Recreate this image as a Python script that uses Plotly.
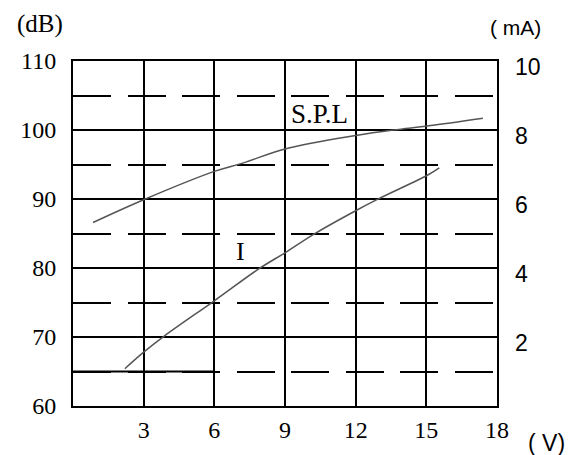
import plotly.graph_objects as go

# Data
spl_v = [0.85, 3.0, 6.0, 7.2, 9.0, 12.0, 13.6, 15.1, 17.4]
spl_db = [86.6, 89.9, 94.0, 95.2, 97.25, 99.2, 100.0, 100.6, 101.7]

i_v = [2.2, 3.0, 3.9, 6.0, 7.9, 9.0, 10.3, 12.0, 12.9, 15.1, 15.55]
i_ma = [1.08, 1.56, 2.04, 3.05, 3.98, 4.44, 5.01, 5.66, 5.98, 6.71, 6.9]

x_ticks = [3, 6, 9, 12, 15, 18]
db_ticks = [60, 70, 80, 90, 100, 110]
ma_ticks = [2, 4, 6, 8, 10]

serif = "Liberation Serif, Times New Roman, serif"
sans = "Liberation Sans, Arial, sans-serif"

fig = go.Figure()
fig.add_trace(go.Scatter(x=spl_v, y=spl_db, mode="lines", line=dict(color="#555", width=1.5, shape="spline"),
                         showlegend=False, hoverinfo="skip"))
fig.add_trace(go.Scatter(x=i_v, y=i_ma, mode="lines", yaxis="y2", line=dict(color="#555", width=1.5, shape="spline"),
                         showlegend=False, hoverinfo="skip"))

fig.update_layout(
    width=576, height=455,
    margin=dict(l=73, r=79, t=61, b=47),
    paper_bgcolor="white", plot_bgcolor="white",
    xaxis=dict(range=[0, 18], tickvals=x_ticks, ticktext=[str(t) for t in x_ticks],
               showgrid=True, gridcolor="black", gridwidth=2,
               showline=True, linecolor="black", linewidth=2, mirror=True,
               ticks="", ticklabelstandoff=1, zeroline=False,
               tickfont=dict(family=serif, size=24, color="black")),
    yaxis=dict(range=[60, 110], tickvals=db_ticks,
               showgrid=True, gridcolor="black", gridwidth=2,
               showline=True, linecolor="black", linewidth=2, mirror=True,
               ticks="", ticklabelstandoff=10, zeroline=False,
               tickfont=dict(family=serif, size=24, color="black"),
               minor=dict(dtick=5, tick0=60, showgrid=True, gridcolor="black", gridwidth=2,
                          griddash="38px,16.5px", ticks="")),
    yaxis2=dict(range=[0, 10], tickvals=ma_ticks, overlaying="y", side="right",
                showgrid=False, showline=False, zeroline=False, ticks="", ticklabelstandoff=17,
                ticklabelshift=6,
                tickfont=dict(family=sans, size=23, color="black")),
)

# solid part of the lowest dashed grid line
fig.add_shape(type="line", x0=0, x1=6, y0=65, y1=65, xref="x", yref="y",
              line=dict(color="black", width=2), layer="below")

def px_to_paper(px, py):
    return (px - 73) / 424, (408 - py) / 347

annots = [
    dict(text="(dB)", x=15, y=24, font=dict(family=serif, size=25)),
    dict(text="( mA)", x=488, y=27, font=dict(family=sans, size=21)),
    dict(text="( V)", x=526, y=445, font=dict(family=sans, size=23)),
]
for a in annots:
    ax, ay = px_to_paper(a["x"], a["y"])
    fig.add_annotation(text=a["text"], x=ax, y=ay, xref="paper", yref="paper",
                       showarrow=False, font=dict(color="black", **a["font"]),
                       xanchor="left", yanchor="middle")

fig.add_annotation(text="S.P.L", x=10.45, y=102.3, xref="x", yref="y", showarrow=False,
                   font=dict(family=serif, size=27, color="black"), xanchor="center", yanchor="middle")
fig.add_annotation(text="I", x=7.09, y=82.4, xref="x", yref="y", showarrow=False,
                   font=dict(family=serif, size=26, color="black"), xanchor="center", yanchor="middle")

fig.write_html("out.html", config={"displayModeBar": False})

# remove default page margin so the figure sits at the window origin
with open("out.html", "r", encoding="utf-8") as f:
    html = f.read()
html = html.replace("<head>", "<head><style>html,body{margin:0;padding:0;overflow:hidden;}</style>", 1)
with open("out.html", "w", encoding="utf-8") as f:
    f.write(html)
